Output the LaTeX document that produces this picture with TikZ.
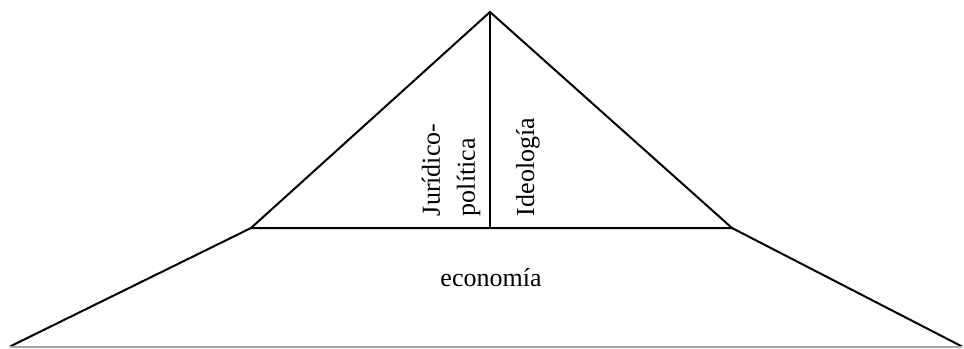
\documentclass[tikz,border=0pt]{standalone}
\usepackage{fontspec}
\setmainfont{Liberation Serif}
\usepackage{tikz}

\begin{document}
\begin{tikzpicture}[x=0.4pt, y=-0.4pt, line width=0.8pt,
    label text/.style={inner sep=0pt, font=\fontsize{10.4}{14}\selectfont}]
    \useasboundingbox (0,0) rectangle (964,348);
    % corners
    \coordinate (apex) at (490,12);
    \coordinate (foot) at (490,228);
    \coordinate (topleft) at (251,228);
    \coordinate (topright) at (732,228);
    \coordinate (baseleft) at (10,346.5);
    \coordinate (baseright) at (962,346.5);
    % pyramid
    \draw (topleft) -- (apex) -- (topright) -- cycle;
    \draw (apex) -- (foot);
    \draw (topleft) -- (baseleft);
    \draw (topright) -- (baseright);
    \draw[gray!70] (baseleft) -- (baseright);
    % labels
    \node[label text, rotate=90, anchor=west, align=left] (juridica) at (451,217) {Jurídico-\\política};
    \node[label text, rotate=90, anchor=west] (ideologia) at (528,217) {Ideología};
    \node[label text, anchor=base] (economia) at (491,286) {economía};
\end{tikzpicture}
\end{document}
